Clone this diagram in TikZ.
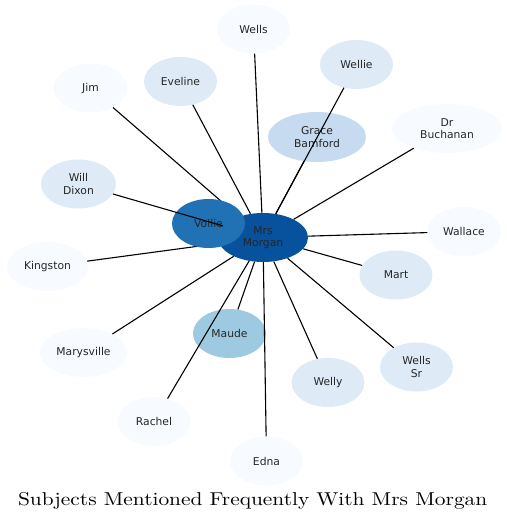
\documentclass[tikz,border=0pt]{standalone}
\usepackage{fontspec}
\newfontfamily\dejavu{DejaVu Sans}
\usetikzlibrary{shapes.geometric}
\definecolor{bA}{HTML}{08519C}
\definecolor{bB}{HTML}{2171B5}
\definecolor{bC}{HTML}{9ECAE1}
\definecolor{bD}{HTML}{C6DBEF}
\definecolor{bE}{HTML}{DEEBF7}
\definecolor{bF}{HTML}{F7FBFF}
\tikzset{
  person/.style={ellipse, minimum width=73pt, minimum height=49pt, inner sep=0pt,
    align=center, font=\dejavu\fontsize{10.75}{12.5}\selectfont, text=black!85},
  link/.style={draw=black, line width=1.1pt},
  titletext/.style={anchor=base, inner sep=0pt}
}
\begin{document}
\begin{tikzpicture}[x=1pt,y=-1pt]
\useasboundingbox (0,0) rectangle (509,521);
% nodes
\node[person, fill=bA] (mm) at (263,237.5) [minimum width=90pt] {Mrs\\Morgan};
\node[person, fill=bF] (wells) at (253.5,29) {Wells};
\node[person, fill=bE] (wellie) at (356.5,64.5) {Wellie};
\node[person, fill=bF] (jim) at (90.5,88) {Jim};
\node[person, fill=bE] (eveline) at (180.5,81.5) {Eveline};
\node[person, fill=bD] (grace) at (317,137) [minimum width=98pt, minimum height=50pt] {Grace\\Bamford};
\node[person, fill=bF] (buchanan) at (447,128.5) [minimum width=110pt] {Dr\\Buchanan};
\node[person, fill=bE] (dixon) at (78.5,184) [minimum width=75pt] {Will\\Dixon};
\node[person, fill=bF] (kingston) at (47.5,266.5) [minimum width=81pt] {Kingston};
\node[person, fill=bF] (wallace) at (464,231.5) {Wallace};
\node[person, fill=bE] (mart) at (396,275) {Mart};
\node[person, fill=bF] (marysville) at (83.5,352.5) [minimum width=87pt] {Marysville};
\node[person, fill=bC] (maude) at (229.5,333.5) {Maude};
\node[person, fill=bE] (welly) at (328,382.5) {Welly};
\node[person, fill=bE] (wellssr) at (416.5,367) {Wells\\Sr};
\node[person, fill=bF] (rachel) at (154,421.5) {Rachel};
\node[person, fill=bF] (edna) at (266.5,461) {Edna};
% connectors hidden under Vollie
\foreach \n in {jim,kingston}
  \draw[link] (\n) -- (mm);
\node[person, fill=bB] (vollie) at (208.5,223.5) {Vollie};
% other connectors
\foreach \n in {wells,wellie,eveline,grace,buchanan,dixon,wallace,mart,marysville,maude,welly,wellssr,rachel,edna}
  \draw[link] (\n) -- (mm);
% title
\node[titletext] (title) at (252.7,505) {\scalebox{2.14}[1.86]{\fontsize{10}{12}\selectfont Subjects Mentioned Frequently With Mrs Morgan}};
\end{tikzpicture}
\end{document}
